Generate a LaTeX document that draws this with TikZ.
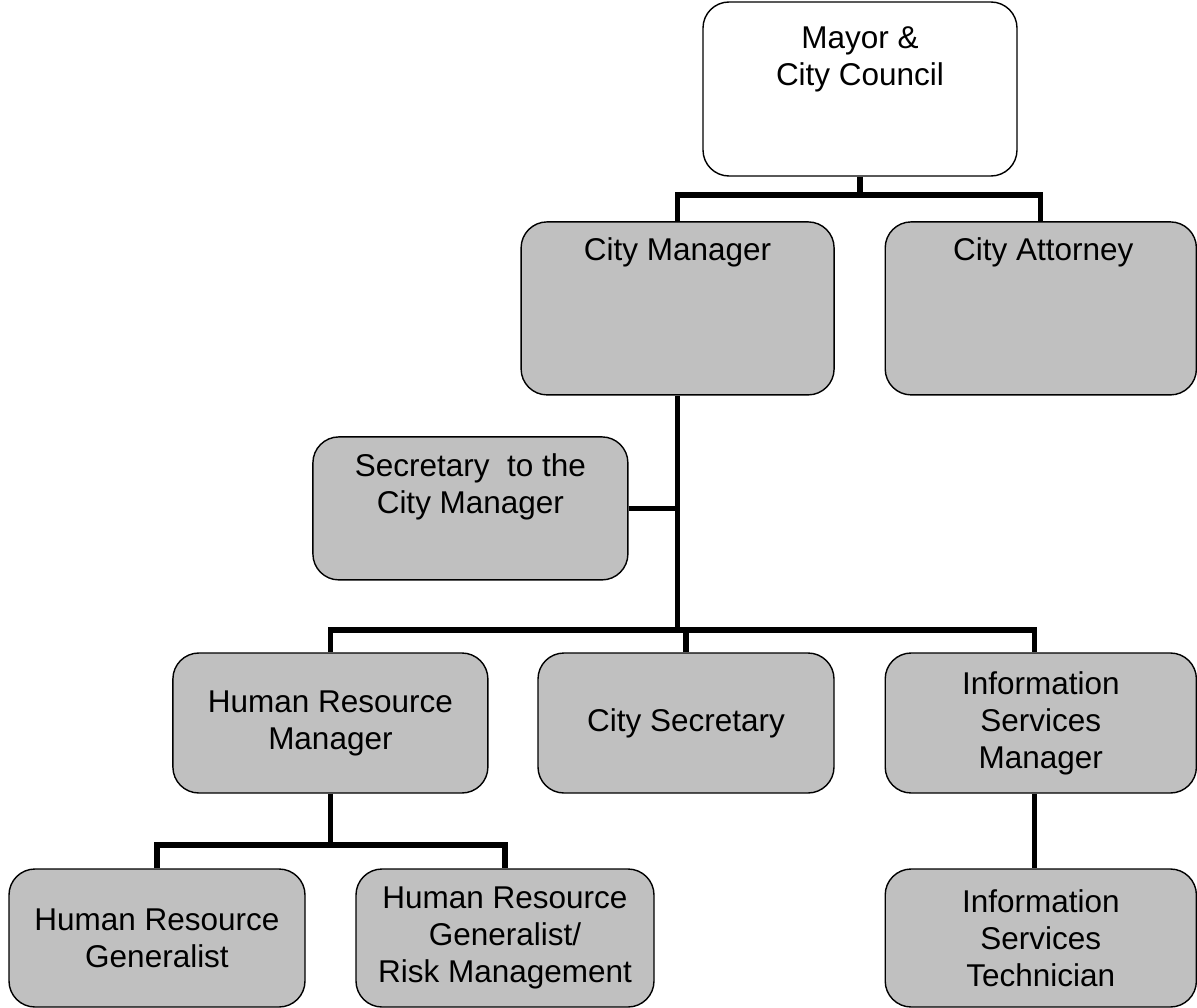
\documentclass[tikz,border=0pt]{standalone}
\usepackage{fontspec}
\setmainfont{Liberation Sans}
\definecolor{boxgray}{HTML}{C0C0C0}
\begin{document}
\begin{tikzpicture}[every node/.style={font=\fontsize{22.4}{26.3}\selectfont,align=center}]
        \tikzset{unit/.style = {draw,line width=1pt,fill=boxgray,rounded corners=0.65cm,
                                minimum width=#1,inner sep=0pt}}
        \tikzset{link/.style = {line width=3.8pt}}
        \useasboundingbox (0,0) rectangle (29.925,-25.2);

        % boxes
        \node[unit=7.85cm,fill=white,minimum height=4.35cm] (mayor) at (21.5,-2.225) {};
        \node[unit=7.825cm,minimum height=4.325cm] (cm) at (16.94,-7.71) {};
        \node[unit=7.78cm,minimum height=4.325cm] (att) at (26.02,-7.71) {};
        \node[unit=7.875cm,minimum height=3.575cm] (sec) at (11.76,-12.71) {};
        \node[unit=7.875cm,minimum height=3.5cm] (hrm) at (8.26,-18.075) {Human Resource\\Manager};
        \node[unit=7.4cm,minimum height=3.5cm] (csec) at (17.15,-18.075) {City Secretary};
        \node[unit=7.78cm,minimum height=3.5cm] (ism) at (26.02,-18.075) {Information\\Services\\Manager};
        \node[unit=7.4cm,minimum height=3.45cm] (hrg) at (3.925,-23.45) {Human Resource\\Generalist};
        \node[unit=7.45cm,minimum height=3.45cm] (hrr) at (12.625,-23.45) {Human Resource\\Generalist/\\Risk Management};
        \node[unit=7.78cm,minimum height=3.45cm] (ist) at (26.02,-23.45) {Information\\Services\\Technician};

        % texts at the top of the boxes
        \node (mayortxt) at (21.5,-1.49) {Mayor \&\\City Council};
        \node (cmtxt) at (16.94,-6.32) {City Manager};
        \node (atttxt) at (26.08,-6.32) {City Attorney};
        \node (sectxt) at (11.76,-12.16) {Secretary~ to the\\City Manager};

        \coordinate (b1) at (0,-4.875);
        \coordinate (b2) at (0,-15.75);
        \coordinate (b3) at (0,-21.125);

        \draw[link] (mayor.south) -- (mayor.south |- b1);
        \draw[link] (cm.north) -- (cm.north |- b1) -| (att.north);

        \draw[link] (cm.south) -- (cm.south |- b2);
        \draw[link] (sec.east) -- (sec.east -| cm.south);
        \draw[link] (hrm.north) -- (hrm.north |- b2) -| ([xshift=-0.15cm]ism.north);
        \draw[link] (csec.north) -- (csec.north |- b2);

        \draw[link] (hrm.south) -- (hrm.south |- b3);
        \draw[link] (hrg.north) -- (hrg.north |- b3) -| (hrr.north);

        \draw[link] ([xshift=-0.15cm]ism.south) -- ([xshift=-0.15cm]ist.north);
\end{tikzpicture}
\end{document}
